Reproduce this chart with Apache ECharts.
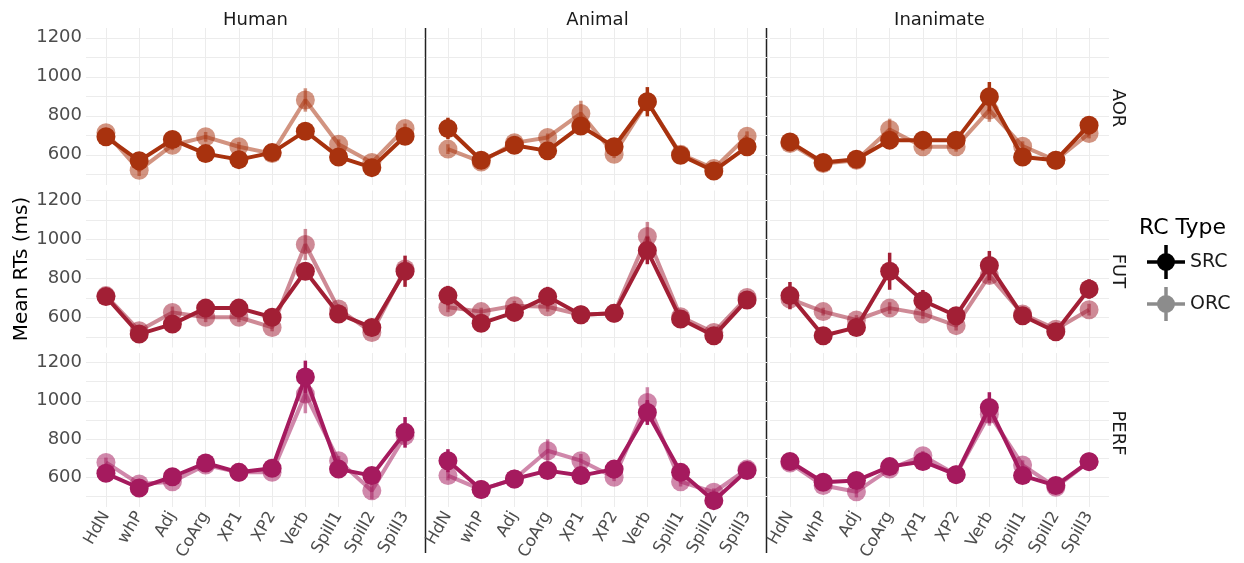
<!DOCTYPE html>
<html>
<head>
<meta charset="utf-8">
<script src="https://cdn.jsdelivr.net/npm/echarts@6/dist/echarts.min.js"></script>
<style>
html,body{margin:0;padding:0;background:#fff}
#chart{width:1244px;height:563px}
</style>
</head>
<body>
<div id="chart"></div>
<script>
// categories
const regions = ['HdN', 'whP', 'Adj', 'CoArg', 'XP1', 'XP2', 'Verb', 'Spill1', 'Spill2', 'Spill3'];
const animacy = ['Human', 'Animal', 'Inanimate'];
const aspects = ['AOR', 'FUT', 'PERF'];
const rcTypes = ['SRC', 'ORC'];
const yTicks = [600, 800, 1000, 1200];
const yGrid = [500, 600, 700, 800, 900, 1000, 1100, 1200];

// mean RTs (ms)
const aorHumanSRC = [692, 569, 678, 606, 575, 611, 721, 589, 534, 695];
const aorHumanORC = [713, 521, 649, 692, 641, 606, 881, 654, 560, 735];
const aorAnimalSRC = [735, 572, 649, 620, 747, 641, 872, 598, 517, 641];
const aorAnimalORC = [629, 563, 661, 689, 812, 603, 872, 603, 529, 695];
const aorInanimateSRC = [666, 560, 577, 675, 675, 675, 898, 589, 572, 752];
const aorInanimateORC = [658, 555, 572, 730, 641, 641, 829, 644, 572, 709];

const futHumanSRC = [706, 514, 565, 647, 647, 600, 836, 617, 548, 836];
const futHumanORC = [711, 531, 625, 600, 600, 548, 973, 642, 522, 848];
const futAnimalSRC = [711, 569, 625, 706, 613, 620, 942, 591, 505, 689];
const futAnimalORC = [651, 629, 659, 654, 613, 620, 1014, 603, 522, 702];
const futInanimateSRC = [711, 505, 548, 836, 685, 608, 865, 608, 526, 745];
const futInanimateORC = [694, 629, 586, 647, 617, 557, 814, 617, 539, 639];

const perfHumanSRC = [621, 544, 603, 675, 626, 647, 1125, 643, 609, 835];
const perfHumanORC = [678, 565, 577, 664, 626, 626, 1035, 687, 530, 817];
const perfAnimalSRC = [687, 536, 591, 635, 609, 643, 939, 626, 478, 635];
const perfAnimalORC = [609, 536, 591, 739, 687, 600, 991, 577, 522, 643];
const perfInanimateSRC = [683, 574, 583, 656, 683, 614, 965, 609, 557, 682];
const perfInanimateORC = [675, 557, 525, 643, 713, 614, 930, 664, 548, 682];

// standard errors (half length of the error bars)
const aorHumanSRCse = [20, 25, 20, 20, 20, 18, 30, 20, 20, 25];
const aorHumanORCse = [20, 30, 25, 25, 25, 20, 60, 25, 20, 25];
const aorAnimalSRCse = [55, 20, 20, 20, 35, 20, 75, 20, 20, 20];
const aorAnimalORCse = [25, 20, 30, 20, 65, 20, 45, 20, 20, 25];
const aorInanimateSRCse = [20, 15, 15, 25, 20, 20, 75, 20, 15, 45];
const aorInanimateORCse = [20, 15, 15, 55, 20, 25, 60, 25, 15, 25];

const futHumanSRCse = [30, 20, 20, 20, 20, 20, 45, 20, 20, 80];
const futHumanORCse = [25, 20, 30, 25, 25, 20, 80, 25, 20, 40];
const futAnimalSRCse = [50, 20, 20, 50, 20, 20, 70, 20, 20, 25];
const futAnimalORCse = [25, 20, 25, 25, 20, 20, 75, 20, 25, 25];
const futInanimateSRCse = [70, 20, 20, 95, 55, 20, 75, 20, 20, 50];
const futInanimateORCse = [30, 20, 25, 30, 25, 25, 40, 25, 20, 30];

const perfHumanSRCse = [20, 20, 20, 20, 20, 20, 85, 25, 25, 80];
const perfHumanORCse = [25, 20, 20, 20, 20, 20, 100, 25, 45, 40];
const perfAnimalSRCse = [60, 20, 20, 20, 20, 20, 65, 25, 20, 20];
const perfAnimalORCse = [25, 15, 20, 60, 35, 20, 80, 25, 20, 20];
const perfInanimateSRCse = [25, 20, 20, 20, 20, 20, 80, 20, 15, 20];
const perfInanimateORCse = [30, 20, 30, 20, 25, 20, 60, 25, 20, 20];

const means = {
  AOR: { Human: { SRC: aorHumanSRC, ORC: aorHumanORC }, Animal: { SRC: aorAnimalSRC, ORC: aorAnimalORC }, Inanimate: { SRC: aorInanimateSRC, ORC: aorInanimateORC } },
  FUT: { Human: { SRC: futHumanSRC, ORC: futHumanORC }, Animal: { SRC: futAnimalSRC, ORC: futAnimalORC }, Inanimate: { SRC: futInanimateSRC, ORC: futInanimateORC } },
  PERF: { Human: { SRC: perfHumanSRC, ORC: perfHumanORC }, Animal: { SRC: perfAnimalSRC, ORC: perfAnimalORC }, Inanimate: { SRC: perfInanimateSRC, ORC: perfInanimateORC } }
};
const errors = {
  AOR: { Human: { SRC: aorHumanSRCse, ORC: aorHumanORCse }, Animal: { SRC: aorAnimalSRCse, ORC: aorAnimalORCse }, Inanimate: { SRC: aorInanimateSRCse, ORC: aorInanimateORCse } },
  FUT: { Human: { SRC: futHumanSRCse, ORC: futHumanORCse }, Animal: { SRC: futAnimalSRCse, ORC: futAnimalORCse }, Inanimate: { SRC: futInanimateSRCse, ORC: futInanimateORCse } },
  PERF: { Human: { SRC: perfHumanSRCse, ORC: perfHumanORCse }, Animal: { SRC: perfAnimalSRCse, ORC: perfAnimalORCse }, Inanimate: { SRC: perfInanimateSRCse, ORC: perfInanimateORCse } }
};

// styling
const rowColor = { AOR: '#a8320e', FUT: '#a21f35', PERF: '#a51a5e' };
const alpha = { SRC: 1, ORC: 0.52 };
const font = 'DejaVu Sans';
const colLeft = [86, 428, 770];
const rowTop = [28, 190.5, 353];
const panelW = 339, panelH = 157;

const grids = [], xAxes = [], yAxes = [], series = [];
aspects.forEach((asp, r) => {
  animacy.forEach((ani, c) => {
    const k = r * 3 + c;
    grids.push({ left: colLeft[c], top: rowTop[r], width: panelW, height: panelH });
    xAxes.push({
      gridIndex: k, type: 'value', min: -0.6, max: 9.6,
      axisLine: { show: false },
      axisTick: { show: false, customValues: regions.map((d, i) => i) },
      axisLabel: {
        show: r === 2, customValues: regions.map((d, i) => i),
        formatter: v => regions[Math.round(v)], rotate: 60, margin: 6,
        color: '#4d4d4d', fontSize: 16.5, fontFamily: font
      },
      splitLine: { show: true, lineStyle: { color: '#ececec', width: 1 } }
    });
    const ya = {
      gridIndex: k, type: 'value', min: 445, max: 1250,
      axisLine: { show: false },
      axisTick: { show: false, customValues: yGrid },
      axisLabel: {
        show: c === 0, customValues: yTicks, margin: 4,
        formatter: v => String(v),
        color: '#4d4d4d', fontSize: 18, fontFamily: font
      },
      splitLine: { show: true, lineStyle: { color: '#ececec', width: 1 } }
    };
    if (r === 1 && c === 0) {
      ya.name = 'Mean RTs (ms)';
      ya.nameLocation = 'middle';
      ya.nameGap = 52;
      ya.nameTextStyle = { fontSize: 20, color: '#000', fontFamily: font };
    }
    yAxes.push(ya);

    ['ORC', 'SRC'].forEach((rc, j) => {
      const vals = means[asp][ani][rc];
      const se = errors[asp][ani][rc];
      const col = rowColor[asp];
      series.push({
        type: 'custom', name: rc, xAxisIndex: k, yAxisIndex: k, z: 2 + j * 2,
        silent: true,
        data: vals.map((v, i) => [i, v - se[i], v + se[i]]),
        encode: { x: 0, y: [1, 2] },
        renderItem: (params, api) => {
          const p1 = api.coord([api.value(0), api.value(1)]);
          const p2 = api.coord([api.value(0), api.value(2)]);
          return {
            type: 'line',
            shape: { x1: p1[0], y1: p1[1], x2: p2[0], y2: p2[1] },
            style: { stroke: col, lineWidth: 3.5, opacity: alpha[rc] }
          };
        }
      });
      series.push({
        type: 'line', name: rc, xAxisIndex: k, yAxisIndex: k, z: 3 + j * 2,
        data: vals.map((v, i) => [i, v]),
        symbol: 'circle', symbolSize: 19, showSymbol: true,
        lineStyle: { color: col, width: 4, opacity: alpha[rc] },
        itemStyle: { color: col, opacity: alpha[rc] },
        emphasis: { disabled: true },
        silent: true
      });
    });
  });
});

const keyIcon = 'path://M-19,-1.75L19,-1.75L19,1.75L-19,1.75Z' +
  'M-1.75,-17L1.75,-17L1.75,17L-1.75,17Z' +
  'M-9,0A9,9 0 1,1 9,0A9,9 0 1,1 -9,0Z';

const stripText = (txt, x, y, rot) => ({
  type: 'text', x: x, y: y, rotation: rot || 0, silent: true,
  style: { text: txt, fill: '#1a1a1a', fontSize: 18, fontFamily: font,
    align: 'center', verticalAlign: 'middle', textAlign: 'center', textVerticalAlign: 'middle' }
});

const graphics = [
  stripText('Human', 255.5, 20),
  stripText('Animal', 597.5, 20),
  stripText('Inanimate', 939.5, 20),
  stripText('AOR', 1118, 108, -Math.PI / 2),
  stripText('FUT', 1118, 271, -Math.PI / 2),
  stripText('PERF', 1118, 433, -Math.PI / 2),
  {
    type: 'text', x: 1139, y: 228, silent: true,
    style: { text: 'RC Type', fill: '#000', fontSize: 22, fontFamily: font,
      align: 'left', verticalAlign: 'middle', textAlign: 'left', textVerticalAlign: 'middle' }
  },
  { type: 'line', silent: true, shape: { x1: 425.5, y1: 28, x2: 425.5, y2: 553 }, style: { stroke: '#222', lineWidth: 1.5 } },
  { type: 'line', silent: true, shape: { x1: 766.5, y1: 28, x2: 766.5, y2: 553 }, style: { stroke: '#222', lineWidth: 1.5 } }
];

const chart = echarts.init(document.getElementById('chart'));
chart.setOption({
  animation: false,
  backgroundColor: '#fff',
  grid: grids,
  xAxis: xAxes,
  yAxis: yAxes,
  legend: {
    orient: 'vertical', left: 1142, top: 240,
    itemWidth: 38, itemHeight: 34, itemGap: 8,
    selectedMode: false,
    textStyle: { fontSize: 19, color: '#1a1a1a', fontFamily: font },
    data: [
      { name: 'SRC', icon: keyIcon, itemStyle: { color: '#000' } },
      { name: 'ORC', icon: keyIcon, itemStyle: { color: 'rgba(0,0,0,0.45)' } }
    ]
  },
  graphic: graphics,
  series: series
});
</script>
</body>
</html>
